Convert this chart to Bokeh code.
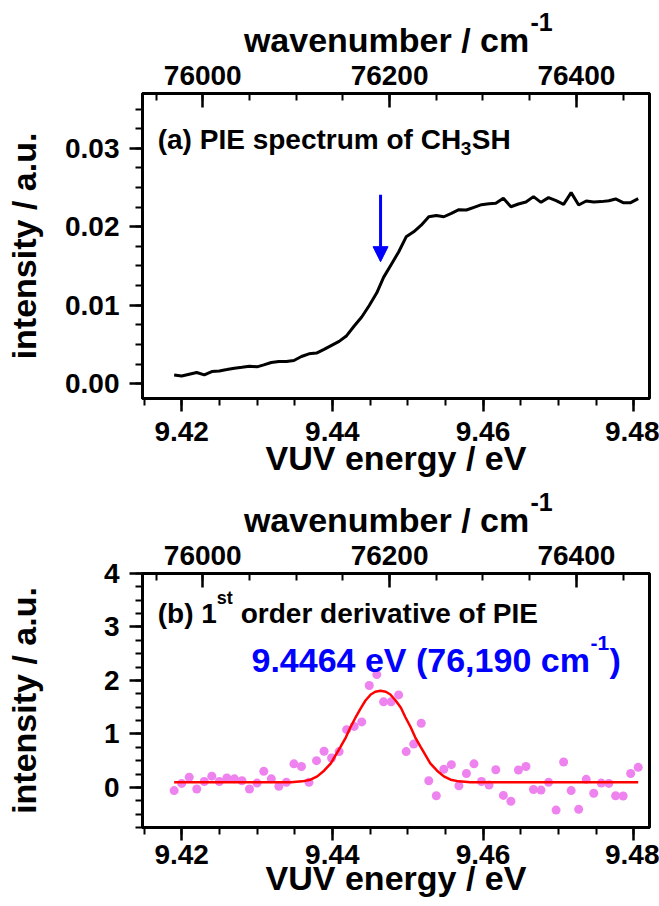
from bokeh.plotting import figure
from bokeh.models import (Range1d, LinearAxis, SingleIntervalTicker,
                          NumeralTickFormatter, Arrow, NormalHead, Title)
from bokeh.layouts import column
from bokeh.embed import file_html
from bokeh.resources import INLINE
from bokeh.core.properties import value

# ---------------- data ----------------
EV_TO_CM = 8065.544  # cm^-1 per eV

energy_ev = [9.4190, 9.4200, 9.4210, 9.4220, 9.4230, 9.4240, 9.4250, 9.4260,
             9.4270, 9.4280, 9.4290, 9.4300, 9.4309, 9.4319, 9.4329, 9.4339,
             9.4349, 9.4359, 9.4369, 9.4379, 9.4389, 9.4399, 9.4409, 9.4419,
             9.4429, 9.4439, 9.4449, 9.4459, 9.4468, 9.4478, 9.4488, 9.4498,
             9.4508, 9.4518, 9.4528, 9.4538, 9.4548, 9.4558, 9.4568, 9.4578,
             9.4588, 9.4598, 9.4608, 9.4617, 9.4627, 9.4637, 9.4647, 9.4657,
             9.4667, 9.4677, 9.4687, 9.4697, 9.4707, 9.4717, 9.4727, 9.4737,
             9.4747, 9.4757, 9.4767, 9.4776, 9.4786, 9.4796, 9.4806]

pie_intensity = [0.00111, 0.00098, 0.00120, 0.00141, 0.00111, 0.00154, 0.00162,
                 0.00179, 0.00197, 0.00209, 0.00222, 0.00214, 0.00239, 0.00269,
                 0.00282, 0.00282, 0.00295, 0.00346, 0.00380, 0.00389, 0.00436,
                 0.00487, 0.00538, 0.00611, 0.00735, 0.00850, 0.00996, 0.01158,
                 0.01355, 0.01517, 0.01679, 0.01872, 0.01936, 0.02021, 0.02128,
                 0.02145, 0.02128, 0.02171, 0.02218, 0.02214, 0.02248, 0.02282,
                 0.02295, 0.02299, 0.02363, 0.02256, 0.02291, 0.02316, 0.02385,
                 0.02312, 0.02372, 0.02333, 0.02286, 0.02436, 0.02278, 0.02329,
                 0.02316, 0.02321, 0.02333, 0.02355, 0.02308, 0.02308, 0.02359]

derivative = [-0.06, 0.075, 0.19, -0.03, 0.11, 0.21, 0.11, 0.175, 0.16, 0.125,
              -0.03, 0.08, 0.30, 0.16, 0.02, 0.094, 0.44, 0.39, 0.094, 0.50,
              0.675, 0.55, 0.67, 1.08, 1.14, 1.225, 1.906, 2.11, 1.6, 1.6,
              1.73, 0.67, 0.81, 1.2, 0.125, -0.156, 0.34, 0.425, 0.03, 0.26,
              0.44, 0.11, 0.044, 0.33, -0.15, -0.26, 0.325, 0.39, -0.04, -0.05,
              0.094, -0.425, 0.475, -0.06, -0.41, 0.15, -0.11, 0.08, 0.075, -0.156,
              -0.16, 0.26, 0.375]

fit_ev = [9.4190, 9.4345, 9.4360, 9.4371, 9.4380, 9.4389, 9.4398, 9.4404,
          9.4411, 9.4418, 9.4424, 9.4431, 9.4438, 9.4444, 9.4451, 9.4457,
          9.4464, 9.4471, 9.4477, 9.4484, 9.4491, 9.4497, 9.4504, 9.4510,
          9.4517, 9.4524, 9.4530, 9.4539, 9.4548, 9.4557, 9.4568, 9.4583,
          9.4806]
fit_val = [0.094, 0.094, 0.113, 0.144, 0.206, 0.3125, 0.45, 0.594,
           0.7625, 0.9375, 1.125, 1.3125, 1.488, 1.625, 1.738, 1.788,
           1.806, 1.788, 1.738, 1.625, 1.488, 1.3125, 1.125, 0.9375,
           0.7625, 0.594, 0.45, 0.3125, 0.206, 0.144, 0.113, 0.094,
           0.094]

onset_ev = 9.4464
arrow_top, arrow_tip = 0.0241, 0.01555

X_MIN, X_MAX = 9.4148, 9.4821
Y1 = (-0.0019, 0.0370)
Y2 = (-0.75, 4.0)
FONT = "Liberation Sans"


def style(p, y_interval, y_fmt, bottom_std, bottom_lab_std, left_lab_std):
    p.xgrid.visible = False
    p.ygrid.visible = False
    p.outline_line_color = "black"
    p.outline_line_width = 3
    p.outline_line_alpha = 1.0
    p.background_fill_color = "white"
    p.border_fill_color = "white"

    xa = p.xaxis[0]
    xa.ticker = SingleIntervalTicker(interval=0.02, num_minor_ticks=4)
    xa.formatter = NumeralTickFormatter(format="0.00")
    xa.axis_label = "VUV energy / eV"
    xa.major_label_standoff = bottom_std
    xa.axis_label_standoff = bottom_lab_std

    ya = p.yaxis[0]
    ya.ticker = SingleIntervalTicker(interval=y_interval, num_minor_ticks=4)
    ya.formatter = NumeralTickFormatter(format=y_fmt)
    ya.axis_label = "intensity / a.u."
    ya.major_label_standoff = 10
    ya.axis_label_standoff = left_lab_std

    top = LinearAxis(x_range_name="wn",
                     ticker=SingleIntervalTicker(interval=200, num_minor_ticks=4),
                     formatter=NumeralTickFormatter(format="0"),
                     axis_label="wavenumber / cm\u00a0\u00a0")
    top.major_label_standoff = 9
    top.axis_label_standoff = 4
    p.add_layout(top, "above")

    for ax in (xa, ya, top):
        ax.axis_line_width = 3
        ax.axis_line_color = "black"
        ax.major_tick_line_width = 2.5
        ax.minor_tick_line_width = 2
        ax.major_tick_line_color = "black"
        ax.minor_tick_line_color = "black"
        ax.major_label_text_font = FONT
        ax.major_label_text_font_style = "bold"
        ax.major_label_text_font_size = "28px"
        ax.major_label_text_color = "black"
        ax.axis_label_text_font = FONT
        ax.axis_label_text_font_style = "bold"
        ax.axis_label_text_font_size = "34px"
        ax.axis_label_text_color = "black"
    for ax in (xa, ya):
        ax.major_tick_in = 0
        ax.major_tick_out = 13
        ax.minor_tick_in = 0
        ax.minor_tick_out = 7
    top.major_tick_in = 14
    top.major_tick_out = 0
    top.minor_tick_in = 7
    top.minor_tick_out = 0

    # exponent "-1" of the top axis title, drawn as the plot title
    p.title = Title(text="-1", align="left", offset=388, standoff=-26,
                    text_font=FONT, text_font_style="bold",
                    text_font_size="25px", text_color="black")


def add_text(p, x, y, s, size, color="black", dx=0, dy=0):
    p.text(x=[x], y=[y], text=[s], text_font=value(FONT), text_font_style="bold",
           text_font_size=size, text_color=color, text_align="left",
           text_baseline="alphabetic", x_offset=dx, y_offset=dy)


# ---------------- panel (a) ----------------
p1 = figure(width=659, height=487, x_range=Range1d(X_MIN, X_MAX),
            y_range=Range1d(*Y1),
            output_backend="svg", toolbar_location=None,
            min_border_left=142, min_border_right=10,
            min_border_top=93, min_border_bottom=89)
p1.extra_x_ranges = {"wn": Range1d(X_MIN * EV_TO_CM, X_MAX * EV_TO_CM)}
style(p1, 0.01, "0.00", 10, -5, 19)

p1.line(energy_ev, pie_intensity, line_color="black", line_width=3)
p1.add_layout(Arrow(end=NormalHead(size=15, fill_color="blue", line_color="blue"),
                    x_start=onset_ev, y_start=arrow_top, x_end=onset_ev, y_end=arrow_tip,
                    line_color="blue", line_width=3))
ax_, ay_ = 9.41682, 0.03115
add_text(p1, ax_, ay_, "(a) PIE spectrum of CH", "28px")
add_text(p1, ax_, ay_, "3", "19px", dx=303, dy=9)
add_text(p1, ax_, ay_, "SH", "28px", dx=314)

# ---------------- panel (b) ----------------
p2 = figure(width=659, height=419, x_range=Range1d(X_MIN, X_MAX),
            y_range=Range1d(*Y2),
            output_backend="svg", toolbar_location=None,
            min_border_left=142, min_border_right=10,
            min_border_top=86, min_border_bottom=79)
p2.extra_x_ranges = {"wn": Range1d(X_MIN * EV_TO_CM, X_MAX * EV_TO_CM)}
style(p2, 1, "0", 4, -8, 58)

p2.scatter(energy_ev, derivative, size=9, fill_color="#EE82EE", line_color=None)
p2.line(fit_ev, fit_val, line_color="red", line_width=2.5)
bx, by = 9.41682, 3.25
add_text(p2, bx, by, "(b) 1", "28px")
add_text(p2, bx, by, "st", "18px", dx=59, dy=-16)
add_text(p2, bx, by, "order derivative of PIE", "28px", dx=83)
cx, cy = 9.42927, 2.385
add_text(p2, cx, cy, "9.4464 eV (76,190 cm", "34px", color="blue")
add_text(p2, cx, cy, "-1", "21px", color="blue", dx=339, dy=-17)
add_text(p2, cx, cy, ")", "34px", color="blue", dx=358)

layout = column(p1, p2, spacing=0)
open("out.html", "w").write(file_html(layout, INLINE))
